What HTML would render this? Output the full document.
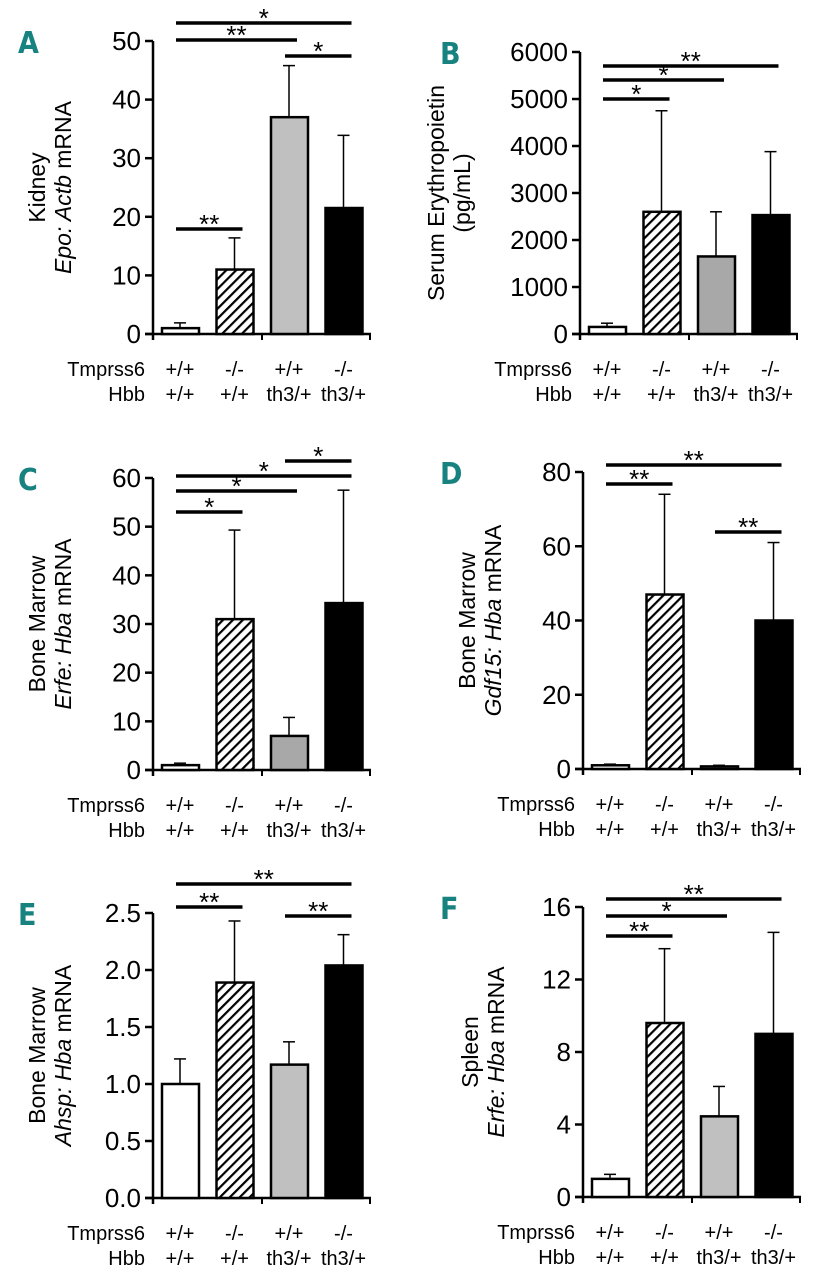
<!DOCTYPE html>
<html><head><meta charset="utf-8"><style>
body{margin:0;background:#fff;width:820px;height:1280px;overflow:hidden}
svg text{font-family:"Liberation Sans",sans-serif;fill:#000}
</style></head><body>
<svg id="fig" width="820" height="1280" viewBox="0 0 820 1280" xmlns="http://www.w3.org/2000/svg">
<defs><pattern id="hatch" patternUnits="userSpaceOnUse" width="7" height="7" patternTransform="rotate(45)"><rect width="7" height="7" fill="#fff"/><rect x="0" y="0" width="2.2" height="7" fill="#000"/></pattern></defs>
</svg>
<script>
const groupsTmprss6=["+/+","-/-","+/+","-/-"];
const groupsHbb=["+/+","+/+","th3/+","th3/+"];
const meansA=[1,11,37,21.5], errTopA=[1.9,16.4,45.8,33.9], ticksA=[0,10,20,30,40,50];
const meansB=[150,2600,1650,2530], errTopB=[230,4750,2600,3880], ticksB=[0,1000,2000,3000,4000,5000,6000];
const meansC=[1,31,7,34.3], errTopC=[1.4,49.3,10.8,57.5], ticksC=[0,10,20,30,40,50,60];
const meansD=[1,47,0.7,40], errTopD=[1.3,74,1,61], ticksD=[0,20,40,60,80];
const meansE=[1,1.89,1.17,2.04], errTopE=[1.22,2.43,1.37,2.31], ticksE=["0.0","0.5","1.0","1.5","2.0","2.5"];
const meansF=[1,9.6,4.45,9.0], errTopF=[1.25,13.7,6.1,14.6], ticksF=[0,4,8,12,16];
const NS="http://www.w3.org/2000/svg";
const svg=document.getElementById('fig');
function el(t,a,p){const e=document.createElementNS(NS,t);for(const k in a)e.setAttribute(k,a[k]);(p||svg).appendChild(e);return e;}
function panel(o){
  const g=el('g',{});
  
  
  const max=parseFloat(o.ticks[o.ticks.length-1]);
  const y=v=>o.y0-v/max*(o.y0-o.ytop);
  const ax=o.ax;
  const lt=el('text',{x:o.lx,y:o.ytop+12,'font-size':30,'font-weight':'bold',style:'fill:#17827f;font-family:"DejaVu Sans Condensed","Liberation Sans",sans-serif'},g);
  lt.textContent=o.letter;
  
  
  const ya=el('line',{x1:ax,y1:o.ytop,x2:ax,y2:o.y0+6,stroke:'#000','stroke-width':2.5},g);
  
  
  const xa=el('line',{x1:ax-8,y1:o.y0,x2:ax+218,y2:o.y0,stroke:'#000','stroke-width':2.5},g);
  
  
  [0,109,217].forEach(d=>el('line',{x1:ax+d,y1:o.y0,x2:ax+d,y2:o.y0+6,stroke:'#000','stroke-width':2},g));
  o.ticks.forEach(t=>{
    const v=parseFloat(t);
    el('line',{x1:ax-8,y1:y(v),x2:ax,y2:y(v),stroke:'#000','stroke-width':2.5},g);
    const tx=el('text',{x:ax-12,y:y(v)+9,'font-size':26,'text-anchor':'end'},g);
    tx.textContent=t;
    
    
  });
  const fills=['#fff','url(#hatch)',o.gray,'#000'];
  o.means.forEach((m,i)=>{
    const cx=ax+27+i*54.5;
    el('line',{x1:cx,y1:y(o.errTop[i]),x2:cx,y2:y(m),stroke:'#000','stroke-width':1.5},g);
    el('line',{x1:cx-6,y1:y(o.errTop[i]),x2:cx+6,y2:y(o.errTop[i]),stroke:'#000','stroke-width':1.5},g);
    const b=el('rect',{x:cx-18,y:y(m),width:37,height:o.y0-y(m),fill:fills[i],stroke:'#000','stroke-width':2.5},g);
    
    
    const t1=el('text',{x:cx,y:o.y0+42,'font-size':20,'text-anchor':'middle'},g);t1.textContent=groupsTmprss6[i];
    const t2=el('text',{x:cx,y:o.y0+67,'font-size':20,'text-anchor':'middle'},g);t2.textContent=groupsHbb[i];
  });
  const r1=el('text',{x:ax-8,y:o.y0+42,'font-size':20,'text-anchor':'end'},g);r1.textContent='Tmprss6';
  
  
  const r2=el('text',{x:ax-8,y:o.y0+67,'font-size':20,'text-anchor':'end'},g);r2.textContent='Hbb';
  
  
  const cy=(o.ytop+o.y0)/2;
  const a1=el('text',{transform:`translate(${ax-o.to},${cy}) rotate(-90)`,'font-size':23,'text-anchor':'middle'},g);
  a1.textContent=o.t1;
  
  
  const a2=el('text',{transform:`translate(${ax-o.to+26},${cy}) rotate(-90)`,'font-size':23,'text-anchor':'middle'},g);
  a2.innerHTML=o.t2;
  o.sig.forEach(s=>{
    const x1=ax+27+s[0]*54.5-4,x2=ax+27+s[1]*54.5+8;
    const l=el('line',{x1:x1,y1:s[2],x2:x2,y2:s[2],stroke:'#000','stroke-width':3.5},g);
    
    
    const st=el('text',{x:(x1+x2)/2,y:s[2]+4,'font-size':26,'text-anchor':'middle'},g);st.textContent=s[3];
  });
}
panel({letter:'A',lx:18,ax:153,y0:334,ytop:41,to:108,ticks:ticksA,means:meansA,errTop:errTopA,gray:'#c0c0c0',t1:'Kidney',t2:'<tspan font-style="italic">Epo: Actb</tspan> mRNA',
  sig:[[0,3,23,'*'],[0,2,40,'**'],[2,3,56,'*'],[0,1,229,'**']]});
panel({letter:'B',lx:440,ax:580,y0:334,ytop:52,to:136,ticks:ticksB,means:meansB,errTop:errTopB,gray:'#a8a8a8',t1:'Serum Erythropoietin',t2:'(pg/mL)',
  sig:[[0,3,66,'**'],[0,2,80,'*'],[0,1,99,'*']]});
panel({letter:'C',lx:18,ax:153,y0:770,ytop:478,to:108,ticks:ticksC,means:meansC,errTop:errTopC,gray:'#a8a8a8',t1:'Bone Marrow',t2:'<tspan font-style="italic">Erfe: Hba</tspan> mRNA',
  sig:[[2,3,461,'*'],[0,3,476,'*'],[0,2,491,'*'],[0,1,512,'*']]});
panel({letter:'D',lx:440,ax:583,y0:769,ytop:472,to:108,ticks:ticksD,means:meansD,errTop:errTopD,gray:'#a8a8a8',t1:'Bone Marrow',t2:'<tspan font-style="italic">Gdf15: Hba</tspan> mRNA',
  sig:[[0,3,465,'**'],[0,1,484,'**'],[2,3,532,'**']]});
panel({letter:'E',lx:18,ax:153,y0:1198,ytop:913,to:108,ticks:ticksE,means:meansE,errTop:errTopE,gray:'#c0c0c0',t1:'Bone Marrow',t2:'<tspan font-style="italic">Ahsp: Hba</tspan> mRNA',
  sig:[[0,3,884,'**'],[0,1,907,'**'],[2,3,916,'**']]});
panel({letter:'F',lx:440,ax:583,y0:1197,ytop:907,to:105,ticks:ticksF,means:meansF,errTop:errTopF,gray:'#c0c0c0',t1:'Spleen',t2:'<tspan font-style="italic">Erfe: Hba</tspan> mRNA',
  sig:[[0,3,899,'**'],[0,2,916,'*'],[0,1,936,'**']]});
</script>
</body></html>
